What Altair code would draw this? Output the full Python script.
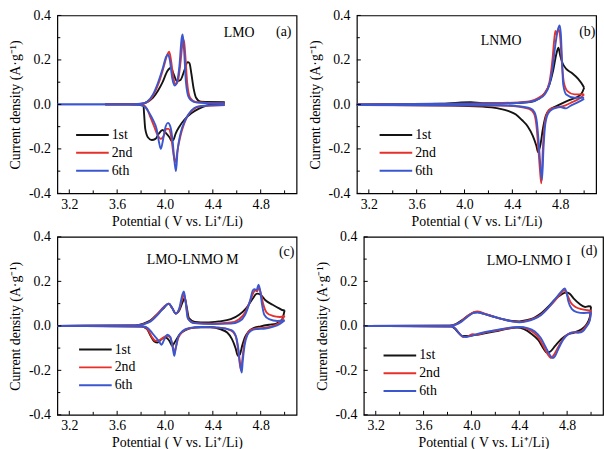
import altair as alt
import pandas as pd

FONT = "Liberation Serif"
CYCLES = ["1st", "2nd", "6th"]
LINE_COLORS = ["#141414", "#e6312b", "#3b57cf"]

X_TICKS_MAJOR = [3.2, 3.6, 4.0, 4.4, 4.8]
X_TICKS_MINOR = [3.4, 3.8, 4.2, 4.6, 5.0]
Y_TICKS_MAJOR = [-0.4, -0.2, 0.0, 0.2, 0.4]
Y_TICKS_MINOR = [-0.3, -0.1, 0.1, 0.3]

# ---- (a) LMO: (potential V, current density A/g); anodic sweep and cathodic sweep
lmo_1st_ox = [(3.50, 0.0), (3.80, 0.002), (3.85, 0.01), (3.90, 0.03), (3.94, 0.06), (3.98, 0.10),
              (4.02, 0.15), (4.05, 0.165), (4.07, 0.14), (4.10, 0.105), (4.13, 0.11), (4.16, 0.15),
              (4.19, 0.19), (4.205, 0.185), (4.22, 0.14), (4.24, 0.07), (4.26, 0.03), (4.30, 0.012),
              (4.50, 0.01)]
lmo_1st_red = [(4.50, 0.005), (4.35, -0.005), (4.28, -0.02), (4.22, -0.04), (4.16, -0.07), (4.12, -0.10),
               (4.09, -0.13), (4.07, -0.16), (4.055, -0.165), (4.04, -0.15), (4.01, -0.13), (3.98, -0.115),
               (3.95, -0.13), (3.92, -0.155), (3.89, -0.16), (3.86, -0.15), (3.835, -0.11), (3.825, -0.04),
               (3.82, -0.005), (3.70, 0.0), (3.50, 0.0)]
lmo_2nd_ox = [(3.50, 0.0), (3.70, 0.0), (3.80, 0.003), (3.85, 0.01), (3.90, 0.04), (3.95, 0.10), (3.99, 0.17),
              (4.02, 0.225), (4.035, 0.237), (4.05, 0.20), (4.07, 0.12), (4.09, 0.09), (4.11, 0.11),
              (4.13, 0.19), (4.15, 0.285), (4.158, 0.29), (4.17, 0.22), (4.185, 0.10), (4.21, 0.03),
              (4.26, 0.01), (4.50, 0.005)]
lmo_2nd_red = [(4.50, -0.003), (4.30, -0.008), (4.23, -0.025), (4.18, -0.06), (4.14, -0.12), (4.11, -0.19),
               (4.085, -0.26), (4.07, -0.22), (4.05, -0.14), (4.03, -0.11), (4.01, -0.11), (3.99, -0.14),
               (3.965, -0.155), (3.94, -0.14), (3.91, -0.10), (3.88, -0.06), (3.85, -0.02), (3.82, -0.004),
               (3.70, 0.0), (3.50, 0.0)]
lmo_6th_ox = [(3.10, 0.0), (3.70, 0.0), (3.80, 0.003), (3.85, 0.012), (3.90, 0.045), (3.94, 0.095),
              (3.98, 0.16), (4.01, 0.215), (4.025, 0.225), (4.04, 0.20), (4.06, 0.12), (4.08, 0.085),
              (4.10, 0.10), (4.12, 0.17), (4.14, 0.30), (4.148, 0.315), (4.16, 0.24), (4.175, 0.10),
              (4.20, 0.03), (4.25, 0.01), (4.35, 0.006), (4.50, 0.004)]
lmo_6th_red = [(4.50, -0.003), (4.35, -0.005), (4.27, -0.01), (4.22, -0.028), (4.17, -0.07), (4.13, -0.13),
               (4.105, -0.21), (4.092, -0.30), (4.08, -0.26), (4.065, -0.17), (4.045, -0.10), (4.025, -0.083),
               (4.00, -0.11), (3.98, -0.17), (3.965, -0.20), (3.95, -0.17), (3.93, -0.11), (3.90, -0.07),
               (3.87, -0.04), (3.84, -0.015), (3.80, -0.003), (3.70, 0.0), (3.10, 0.0)]

# ---- (b) LNMO
lnmo_1st_ox = [(3.10, 0.0), (3.80, 0.003), (3.95, 0.008), (4.05, 0.01), (4.15, 0.006), (4.40, 0.005),
               (4.55, 0.01), (4.62, 0.025), (4.67, 0.05), (4.71, 0.09), (4.74, 0.15), (4.765, 0.22),
               (4.785, 0.255), (4.80, 0.22), (4.82, 0.185), (4.85, 0.16), (4.90, 0.14), (4.95, 0.115),
               (4.99, 0.085), (5.00, 0.075)]
lnmo_1st_red = [(5.00, 0.075), (4.98, 0.05), (4.93, 0.03), (4.88, 0.02), (4.82, 0.006), (4.76, -0.01),
                (4.71, -0.025), (4.68, -0.05), (4.655, -0.11), (4.635, -0.18), (4.615, -0.215), (4.60, -0.185),
                (4.57, -0.14), (4.53, -0.10), (4.48, -0.07), (4.43, -0.045), (4.37, -0.03), (4.28, -0.018),
                (4.15, -0.01), (3.90, -0.005), (3.10, -0.003)]
lnmo_2nd_ox = [(3.10, 0.0), (4.00, 0.003), (4.40, 0.008), (4.55, 0.015), (4.62, 0.03), (4.67, 0.05),
               (4.71, 0.10), (4.735, 0.20), (4.75, 0.29), (4.76, 0.33), (4.77, 0.315), (4.785, 0.34),
               (4.80, 0.30), (4.815, 0.18), (4.83, 0.10), (4.86, 0.06), (4.92, 0.045), (5.00, 0.045)]
lnmo_2nd_red = [(5.00, 0.045), (4.97, 0.03), (4.90, 0.01), (4.84, -0.005), (4.78, -0.012), (4.72, -0.02),
                (4.69, -0.04), (4.67, -0.09), (4.655, -0.20), (4.642, -0.355), (4.63, -0.29), (4.615, -0.18),
                (4.60, -0.09), (4.58, -0.04), (4.54, -0.02), (4.45, -0.01), (4.30, -0.005), (3.10, -0.003)]
lnmo_6th_ox = [(3.10, 0.0), (4.00, 0.003), (4.40, 0.006), (4.55, 0.012), (4.62, 0.025), (4.67, 0.045),
               (4.71, 0.09), (4.74, 0.18), (4.76, 0.27), (4.78, 0.335), (4.795, 0.355), (4.805, 0.32),
               (4.815, 0.20), (4.825, 0.09), (4.85, 0.045), (4.92, 0.03), (5.00, 0.03)]
lnmo_6th_red = [(5.00, 0.025), (4.95, 0.01), (4.88, -0.008), (4.85, -0.018), (4.80, -0.012), (4.74, -0.02),
                (4.70, -0.04), (4.675, -0.09), (4.66, -0.20), (4.648, -0.34), (4.635, -0.28), (4.62, -0.17),
                (4.605, -0.08), (4.585, -0.035), (4.55, -0.018), (4.45, -0.008), (4.30, -0.004), (3.10, -0.003)]

# ---- (c) LMO-LNMO M
m_1st_ox = [(3.10, 0.0), (3.75, 0.002), (3.82, 0.01), (3.88, 0.025), (3.94, 0.055), (3.99, 0.08), (4.03, 0.10),
            (4.06, 0.08), (4.09, 0.055), (4.12, 0.07), (4.15, 0.11), (4.165, 0.125), (4.18, 0.09), (4.20, 0.035),
            (4.25, 0.018), (4.35, 0.015), (4.45, 0.02), (4.55, 0.03), (4.62, 0.05), (4.68, 0.08), (4.73, 0.12),
            (4.77, 0.145), (4.80, 0.14), (4.84, 0.115), (4.90, 0.095), (4.95, 0.08), (4.99, 0.07), (5.00, 0.07)]
m_1st_red = [(5.00, 0.07), (4.98, 0.03), (4.93, 0.01), (4.87, 0.005), (4.80, -0.002), (4.74, -0.01),
             (4.70, -0.025), (4.67, -0.05), (4.645, -0.09), (4.625, -0.13), (4.61, -0.135), (4.59, -0.10),
             (4.56, -0.06), (4.52, -0.03), (4.46, -0.015), (4.38, -0.005), (4.25, -0.008), (4.17, -0.02),
             (4.12, -0.04), (4.08, -0.075), (4.06, -0.09), (4.04, -0.07), (4.00, -0.052), (3.97, -0.06),
             (3.94, -0.075), (3.91, -0.07), (3.88, -0.045), (3.85, -0.015), (3.80, -0.002), (3.10, 0.0)]
m_2nd_ox = [(3.10, 0.0), (3.75, 0.002), (3.82, 0.008), (3.88, 0.022), (3.94, 0.055), (3.99, 0.085), (4.03, 0.10),
            (4.06, 0.08), (4.09, 0.055), (4.12, 0.075), (4.15, 0.13), (4.16, 0.14), (4.175, 0.10), (4.195, 0.03),
            (4.25, 0.012), (4.40, 0.01), (4.55, 0.015), (4.62, 0.03), (4.67, 0.06), (4.71, 0.11), (4.74, 0.15),
            (4.755, 0.16), (4.77, 0.155), (4.785, 0.17), (4.80, 0.15), (4.82, 0.10), (4.85, 0.06), (4.90, 0.045),
            (4.96, 0.04), (5.00, 0.045)]
m_2nd_red = [(5.00, 0.045), (4.97, 0.02), (4.90, 0.0), (4.84, -0.008), (4.76, -0.012), (4.71, -0.02),
             (4.685, -0.04), (4.66, -0.09), (4.645, -0.16), (4.637, -0.20), (4.625, -0.17), (4.61, -0.10),
             (4.59, -0.045), (4.55, -0.02), (4.45, -0.008), (4.30, -0.006), (4.20, -0.012), (4.15, -0.025),
             (4.11, -0.055), (4.09, -0.10), (4.078, -0.12), (4.065, -0.09), (4.04, -0.05), (4.01, -0.045),
             (3.98, -0.055), (3.95, -0.065), (3.92, -0.067), (3.89, -0.05), (3.86, -0.02), (3.82, -0.004),
             (3.10, 0.0)]
m_6th_ox = [(3.10, 0.0), (3.75, 0.002), (3.82, 0.007), (3.88, 0.02), (3.94, 0.05), (3.99, 0.083), (4.035, 0.10),
            (4.06, 0.08), (4.09, 0.055), (4.12, 0.08), (4.145, 0.14), (4.158, 0.155), (4.172, 0.11),
            (4.19, 0.035), (4.24, 0.012), (4.40, 0.008), (4.55, 0.01), (4.62, 0.02), (4.67, 0.05), (4.71, 0.11),
            (4.735, 0.16), (4.75, 0.165), (4.765, 0.16), (4.782, 0.185), (4.795, 0.16), (4.81, 0.10),
            (4.83, 0.05), (4.87, 0.03), (4.94, 0.022), (5.00, 0.025)]
m_6th_red = [(5.00, 0.025), (4.96, 0.008), (4.90, -0.005), (4.84, -0.012), (4.76, -0.015), (4.72, -0.022),
             (4.69, -0.04), (4.665, -0.09), (4.65, -0.16), (4.642, -0.21), (4.63, -0.18), (4.615, -0.11),
             (4.595, -0.05), (4.56, -0.02), (4.45, -0.008), (4.30, -0.005), (4.20, -0.01), (4.15, -0.022),
             (4.11, -0.05), (4.09, -0.10), (4.078, -0.135), (4.065, -0.10), (4.045, -0.05), (4.02, -0.04),
             (3.995, -0.06), (3.97, -0.085), (3.95, -0.07), (3.92, -0.05), (3.89, -0.03), (3.86, -0.012),
             (3.82, -0.003), (3.10, 0.0)]

# ---- (d) LMO-LNMO I
i_1st_ox = [(3.10, 0.0), (3.82, 0.001), (3.87, 0.008), (3.92, 0.025), (3.97, 0.045), (4.02, 0.06), (4.05, 0.062),
            (4.10, 0.055), (4.18, 0.042), (4.26, 0.03), (4.34, 0.022), (4.40, 0.02), (4.46, 0.025), (4.52, 0.035),
            (4.58, 0.055), (4.64, 0.085), (4.70, 0.12), (4.75, 0.14), (4.79, 0.15), (4.82, 0.145), (4.86, 0.12),
            (4.90, 0.10), (4.95, 0.085), (4.98, 0.088), (5.00, 0.087)]
i_1st_red = [(5.00, 0.087), (4.99, 0.04), (4.96, 0.005), (4.92, -0.015), (4.86, -0.03), (4.80, -0.04),
             (4.75, -0.06), (4.70, -0.09), (4.66, -0.115), (4.63, -0.12), (4.60, -0.10), (4.56, -0.065),
             (4.50, -0.035), (4.44, -0.015), (4.38, -0.008), (4.30, -0.013), (4.20, -0.025), (4.10, -0.035),
             (4.02, -0.042), (3.96, -0.045), (3.92, -0.045), (3.89, -0.03), (3.86, -0.012), (3.83, -0.002),
             (3.10, 0.0)]
i_2nd_ox = [(3.10, 0.0), (3.82, 0.001), (3.87, 0.007), (3.92, 0.022), (3.97, 0.045), (4.02, 0.062), (4.05, 0.065),
            (4.10, 0.057), (4.18, 0.043), (4.26, 0.03), (4.34, 0.02), (4.40, 0.018), (4.46, 0.022), (4.52, 0.032),
            (4.58, 0.05), (4.64, 0.08), (4.70, 0.115), (4.74, 0.14), (4.775, 0.16), (4.80, 0.14), (4.83, 0.105),
            (4.87, 0.085), (4.92, 0.075), (4.97, 0.07), (5.00, 0.068)]
i_2nd_red = [(5.00, 0.068), (4.99, 0.03), (4.96, 0.0), (4.93, -0.02), (4.89, -0.03), (4.85, -0.03),
             (4.80, -0.04), (4.76, -0.065), (4.72, -0.10), (4.69, -0.13), (4.665, -0.145), (4.64, -0.13),
             (4.61, -0.10), (4.57, -0.06), (4.52, -0.03), (4.46, -0.012), (4.40, -0.006), (4.30, -0.012),
             (4.20, -0.022), (4.10, -0.032), (4.04, -0.04), (4.01, -0.037), (3.97, -0.047), (3.93, -0.05),
             (3.90, -0.035), (3.87, -0.015), (3.84, -0.003), (3.10, 0.0)]
i_6th_ox = [(3.10, 0.0), (3.82, 0.001), (3.87, 0.006), (3.92, 0.02), (3.97, 0.042), (4.02, 0.058), (4.05, 0.06),
            (4.10, 0.055), (4.18, 0.042), (4.26, 0.03), (4.34, 0.02), (4.40, 0.016), (4.46, 0.02), (4.52, 0.03),
            (4.58, 0.048), (4.64, 0.08), (4.70, 0.12), (4.745, 0.15), (4.78, 0.168), (4.795, 0.15), (4.81, 0.11),
            (4.84, 0.075), (4.88, 0.062), (4.94, 0.058), (5.00, 0.06)]
i_6th_red = [(5.00, 0.06), (4.99, 0.025), (4.96, -0.005), (4.93, -0.025), (4.90, -0.03), (4.86, -0.028),
             (4.81, -0.038), (4.77, -0.06), (4.73, -0.10), (4.70, -0.135), (4.68, -0.145), (4.655, -0.13),
             (4.62, -0.095), (4.58, -0.055), (4.53, -0.025), (4.47, -0.01), (4.40, -0.005), (4.30, -0.01),
             (4.20, -0.02), (4.10, -0.03), (4.04, -0.038), (4.00, -0.045), (3.96, -0.05), (3.93, -0.048),
             (3.90, -0.035), (3.87, -0.015), (3.84, -0.003), (3.10, 0.0)]

curves = {
    "a": [lmo_1st_ox, lmo_1st_red, lmo_2nd_ox, lmo_2nd_red, lmo_6th_ox, lmo_6th_red],
    "b": [lnmo_1st_ox, lnmo_1st_red, lnmo_2nd_ox, lnmo_2nd_red, lnmo_6th_ox, lnmo_6th_red],
    "c": [m_1st_ox, m_1st_red, m_2nd_ox, m_2nd_red, m_6th_ox, m_6th_red],
    "d": [i_1st_ox, i_1st_red, i_2nd_ox, i_2nd_red, i_6th_ox, i_6th_red],
}

rows = []
for key, branches in curves.items():
    for n, pts in enumerate(branches):
        cycle = CYCLES[n // 2]
        sweep = "anodic" if n % 2 == 0 else "cathodic"
        for k, (v, cur) in enumerate(sorted(pts)):
            rows.append({"panel": key, "cycle": cycle, "sweep": sweep, "k": k, "V": v, "I": cur})
df = pd.DataFrame(rows)

one = pd.DataFrame({"n": [0]})
x_scale = alt.Scale(domain=[3.1, 5.1], nice=False, zero=False)
y_scale = alt.Scale(domain=[-0.4, 0.4], nice=False, zero=False)

x_axis = alt.Axis(values=X_TICKS_MAJOR, format=".1f", ticks=False, domain=False, grid=False,
                  labelPadding=4, title="Potential ( V vs. Li\u207a/Li)", titlePadding=3)
y_axis = alt.Axis(values=Y_TICKS_MAJOR, ticks=False, domain=False, grid=False, labelPadding=7,
                  labelExpr="datum.value < 0 ? '-' + format(-datum.value, '.1f') : format(datum.value, '.1f')",
                  title="Current density (A\u00b7g\u207b\u00b9)", titlePadding=6)

W, H = 242, 180


def panel(key, name, name_xy, tag, tag_xy, legend_xy):
    data = df[df.panel == key]
    lines = alt.Chart(data).mark_line(strokeWidth=1.9, interpolate="monotone").encode(
        x=alt.X("V:Q", scale=x_scale, axis=x_axis),
        y=alt.Y("I:Q", scale=y_scale, axis=y_axis),
        color=alt.Color("cycle:N", scale=alt.Scale(domain=CYCLES, range=LINE_COLORS), legend=None),
        detail="sweep:N",
        order="k:Q",
    )
    layers = [lines]
    # inward tick marks on the bottom and left edges
    for vals, size in ((X_TICKS_MAJOR, 4), (X_TICKS_MINOR, 3)):
        layers.append(alt.Chart(pd.DataFrame({"V": vals})).mark_rule(color="black", strokeWidth=1).encode(
            x=alt.X("V:Q", scale=x_scale, axis=x_axis), y=alt.value(H), y2=alt.value(H - size)))
    for vals, size in ((Y_TICKS_MAJOR, 4), (Y_TICKS_MINOR, 3)):
        layers.append(alt.Chart(pd.DataFrame({"I": vals})).mark_rule(color="black", strokeWidth=1).encode(
            y=alt.Y("I:Q", scale=y_scale, axis=y_axis), x=alt.value(0), x2=alt.value(size)))
    layers.append(alt.Chart(one).mark_text(text=name, font=FONT, fontSize=14, color="black").encode(
        x=alt.value(name_xy[0]), y=alt.value(name_xy[1])))
    layers.append(alt.Chart(one).mark_text(text=tag, font=FONT, fontSize=14, color="black").encode(
        x=alt.value(tag_xy[0]), y=alt.value(tag_xy[1])))
    lx, ly = legend_xy
    for n, (cyc, col) in enumerate(zip(CYCLES, LINE_COLORS)):
        yy = ly + 18 * n
        layers.append(alt.Chart(one).mark_rule(color=col, strokeWidth=2).encode(
            x=alt.value(lx), x2=alt.value(lx + 33), y=alt.value(yy)))
        layers.append(alt.Chart(one).mark_text(text=cyc, font=FONT, fontSize=14, color="black",
                                               align="left", baseline="middle").encode(
            x=alt.value(lx + 36), y=alt.value(yy)))
    return alt.layer(*layers).properties(width=W, height=H)


pa = panel("a", "LMO", (184, 18), "(a)", (229, 17), (19, 121))
pb = panel("b", "LNMO", (146, 26), "(b)", (233, 17), (23, 121))
pc = panel("c", "LMO-LNMO M", (137, 23), "(c)", (232, 15), (22, 114))
pd_ = panel("d", "LMO-LNMO I", (167, 24), "(d)", (228, 14), (20, 120))

top = alt.hconcat(pa, pb, spacing=10)
bottom = alt.hconcat(pc, pd_, spacing=17)

chart = alt.vconcat(top, bottom, spacing=0).properties(
    padding={"left": 8, "top": 5, "right": 0, "bottom": 0},
    background="white",
).configure_view(
    stroke="black", strokeWidth=1.2
).configure_axis(
    labelFont=FONT, labelFontSize=14, labelColor="black",
    titleFont=FONT, titleFontSize=14, titleFontWeight="normal", titleColor="black",
)

chart.save("out.html", embed_options={"renderer": "svg", "actions": False})
